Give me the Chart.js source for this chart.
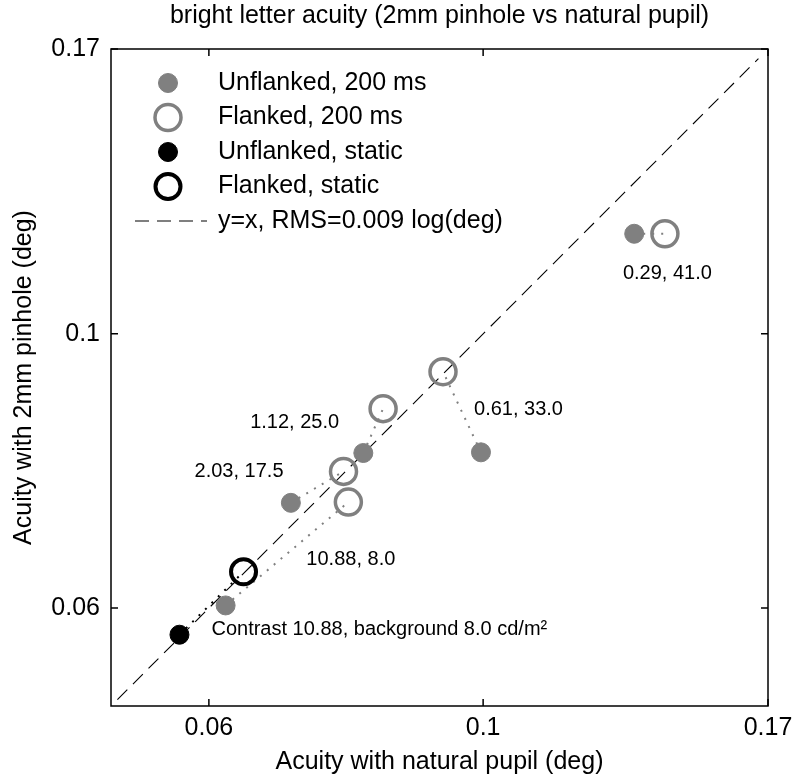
<!DOCTYPE html>
<html>
<head>
<meta charset="utf-8">
<script src="https://cdn.jsdelivr.net/npm/chart.js@4.4.0/dist/chart.umd.min.js"></script>
<style>
  body { margin: 0; background: #fff; }
</style>
</head>
<body>
<canvas id="chart" width="793" height="780"></canvas>
<script>
// ---- data ----
const conditionLabels = ["10.88, 8.0", "2.03, 17.5", "1.12, 25.0", "0.61, 33.0", "0.29, 41.0"];
const unflanked200X = [0.0619, 0.0699, 0.0800, 0.0996, 0.1325];
const unflanked200Y = [0.0603, 0.0730, 0.0801, 0.0802, 0.1205];
const flanked200X = [0.0778, 0.0771, 0.0830, 0.0928, 0.1403];
const flanked200Y = [0.0731, 0.0774, 0.0870, 0.0932, 0.1205];
const unflankedStaticX = [0.0568];
const unflankedStaticY = [0.0571];
const flankedStaticX = [0.0640];
const flankedStaticY = [0.0642];
const staticLabel = "Contrast 10.88, background 8.0 cd/m²";
const diagX = [0.0506, 0.167];
const tickValues = [0.06, 0.1, 0.17];
const tickLabels = ["0.06", "0.1", "0.17"];
const legendLabels = ["Unflanked, 200 ms", "Flanked, 200 ms", "Unflanked, static", "Flanked, static", "y=x, RMS=0.009 log(deg)"];

const GRAY = "#808080";
const FONT = '"Liberation Sans", Arial, sans-serif';

// label placement relative to the flanked point of each pair
const labelOffsets = [
  { dx: -42, dy: 57, align: "left" },
  { dx: -60, dy: 0, align: "right" },
  { dx: -44, dy: 14, align: "right" },
  { dx: 31, dy: 38, align: "left" },
  { dx: -42, dy: 40, align: "left" }
];

function pts(xs, ys) {
  return xs.map((v, i) => ({ x: v, y: ys[i] }));
}

const seriesStyles = [
  { backgroundColor: GRAY, borderColor: GRAY, pointRadius: 9.5, borderWidth: 1 },
  { backgroundColor: "rgba(0,0,0,0)", borderColor: GRAY, pointRadius: 13, borderWidth: 3.5 },
  { backgroundColor: "#000", borderColor: "#000", pointRadius: 9.5, borderWidth: 1 },
  { backgroundColor: "rgba(0,0,0,0)", borderColor: "#000", pointRadius: 12.5, borderWidth: 4 }
];

const datasets = [
  Object.assign({ label: legendLabels[0], data: pts(unflanked200X, unflanked200Y), order: 1 }, seriesStyles[0]),
  Object.assign({ label: legendLabels[1], data: pts(flanked200X, flanked200Y), order: 1 }, seriesStyles[1]),
  Object.assign({ label: legendLabels[2], data: pts(unflankedStaticX, unflankedStaticY), order: 1 }, seriesStyles[2]),
  Object.assign({ label: legendLabels[3], data: pts(flankedStaticX, flankedStaticY), order: 1 }, seriesStyles[3]),
  {
    label: legendLabels[4], type: "line", data: pts(diagX, diagX), order: 20,
    borderColor: "#000", borderWidth: 1.1, borderDash: [14, 8], pointRadius: 0, fill: false
  }
];

// dotted lines joining each unflanked / flanked pair
conditionLabels.forEach((c, i) => {
  datasets.push({
    label: "pair " + c, type: "line", order: 10,
    data: [{ x: unflanked200X[i], y: unflanked200Y[i] }, { x: flanked200X[i], y: flanked200Y[i] }],
    borderColor: GRAY, borderWidth: 2, borderDash: [2, 7], pointRadius: 0, fill: false
  });
});
datasets.push({
  label: "pair static", type: "line", order: 10,
  data: [{ x: unflankedStaticX[0], y: unflankedStaticY[0] }, { x: flankedStaticX[0], y: flankedStaticY[0] }],
  borderColor: "#000", borderWidth: 2, borderDash: [2, 7], pointRadius: 0, fill: false
});

/* ======================
   FRAME, TICKS, LABELS, LEGEND
====================== */
const overlay = {
  id: "overlay",
  afterDraw(chart) {
    const { ctx, chartArea: a, scales: { x, y } } = chart;
    ctx.save();
    ctx.strokeStyle = "#000";
    ctx.lineWidth = 1.5;
    ctx.setLineDash([]);
    ctx.strokeRect(a.left, a.top, a.right - a.left, a.bottom - a.top);

    const tl = 7;
    ctx.beginPath();
    tickValues.forEach(v => {
      const px = x.getPixelForValue(v);
      const py = y.getPixelForValue(v);
      ctx.moveTo(px, a.bottom); ctx.lineTo(px, a.bottom - tl);
      ctx.moveTo(px, a.top); ctx.lineTo(px, a.top + tl);
      ctx.moveTo(a.left, py); ctx.lineTo(a.left + tl, py);
      ctx.moveTo(a.right, py); ctx.lineTo(a.right - tl, py);
    });
    ctx.stroke();

    // pair annotations
    ctx.fillStyle = "#000";
    ctx.textBaseline = "middle";
    ctx.font = "20px " + FONT;
    conditionLabels.forEach((t, i) => {
      const o = labelOffsets[i];
      ctx.textAlign = o.align;
      ctx.fillText(t, x.getPixelForValue(flanked200X[i]) + o.dx, y.getPixelForValue(flanked200Y[i]) + o.dy);
    });
    ctx.textAlign = "left";
    ctx.fillText(staticLabel, x.getPixelForValue(unflankedStaticX[0]) + 32, y.getPixelForValue(unflankedStaticY[0]) - 5);

    // legend
    ctx.font = "25px " + FONT;
    const lx = 168, tx = 218, y0 = 83, dy = 34.5;
    seriesStyles.forEach((s, i) => {
      const yy = y0 + i * dy;
      ctx.beginPath();
      ctx.arc(lx, yy, s.pointRadius, 0, Math.PI * 2);
      ctx.fillStyle = s.backgroundColor;
      ctx.fill();
      ctx.lineWidth = s.borderWidth;
      ctx.strokeStyle = s.borderColor;
      ctx.stroke();
      ctx.fillStyle = "#000";
      ctx.fillText(legendLabels[i], tx, yy);
    });
    const yl = y0 + 4 * dy;
    ctx.beginPath();
    ctx.lineWidth = 1.1;
    ctx.strokeStyle = "#000";
    ctx.setLineDash([14, 8]);
    ctx.moveTo(135, yl); ctx.lineTo(207, yl);
    ctx.stroke();
    ctx.setLineDash([]);
    ctx.fillText(legendLabels[4], tx, yl);
    ctx.restore();
  }
};

function fixedTicks(scale) {
  scale.ticks = tickValues.map(v => ({ value: v }));
}

new Chart(document.getElementById("chart"), {
  type: "scatter",
  data: { datasets },
  options: {
    responsive: false,
    animation: false,
    events: [],
    layout: { padding: { left: 0, right: 25, top: 0, bottom: 0 } },
    font: { family: FONT },
    plugins: {
      legend: { display: false },
      tooltip: { enabled: false },
      title: {
        display: true,
        fullSize: false,
        text: "bright letter acuity (2mm pinhole vs natural pupil)",
        color: "#000",
        font: { family: FONT, size: 25, weight: "normal" },
        padding: { top: 1, bottom: 18 }
      }
    },
    scales: {
      x: {
        type: "logarithmic",
        min: 0.05,
        max: 0.17,
        afterBuildTicks: fixedTicks,
        afterFit(scale) {
          scale.height = 74;
          scale.paddingLeft = 0;
          scale.paddingRight = 0;
        },
        grid: { display: false, drawTicks: false },
        border: { display: false },
        ticks: {
          autoSkip: false, maxRotation: 0, padding: 7, color: "#000",
          font: { family: FONT, size: 25 },
          callback: (v, i) => tickLabels[i]
        },
        title: {
          display: true, text: "Acuity with natural pupil (deg)", color: "#000",
          font: { family: FONT, size: 25 }, padding: { top: 0, bottom: 3 }
        }
      },
      y: {
        type: "logarithmic",
        min: 0.05,
        max: 0.17,
        afterBuildTicks: fixedTicks,
        afterFit(scale) {
          scale.width = 111;
          scale.paddingTop = 0;
          scale.paddingBottom = 0;
        },
        grid: { display: false, drawTicks: false },
        border: { display: false },
        ticks: {
          autoSkip: false, padding: 11, color: "#000",
          font: { family: FONT, size: 25 },
          callback: (v, i) => tickLabels[i]
        },
        title: {
          display: true, text: "Acuity with 2mm pinhole (deg)", color: "#000",
          font: { family: FONT, size: 25 }, padding: { top: 9, bottom: 0 }
        }
      }
    }
  },
  plugins: [overlay]
});
</script>
</body>
</html>
